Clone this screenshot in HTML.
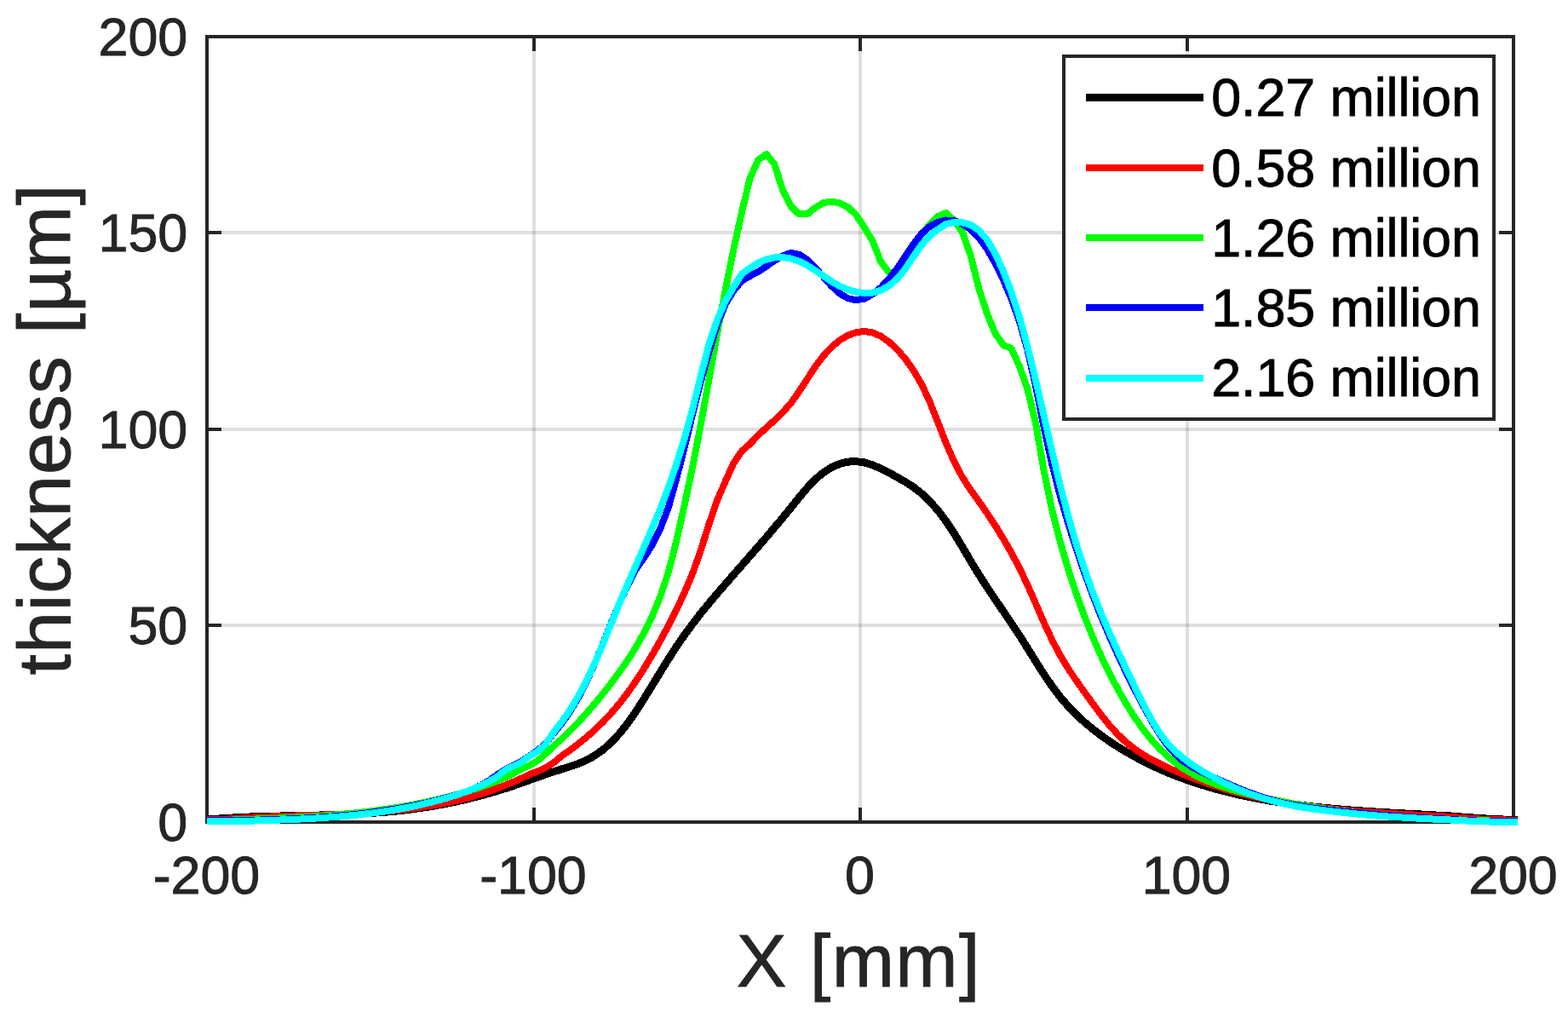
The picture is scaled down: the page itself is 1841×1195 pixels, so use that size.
<!DOCTYPE html>
<html lang="en"><head><meta charset="utf-8"><title>thickness vs X</title>
<style>
html,body{margin:0;padding:0;background:#fff;}
body{width:1841px;height:1195px;overflow:hidden;}
svg{display:block;}
text{font-family:"Liberation Sans",sans-serif;}
.tick{font-size:62.8px;fill:#262626;stroke:#262626;stroke-width:0.9px;letter-spacing:-0.1px;}
.lab{font-size:88px;fill:#262626;stroke:#262626;stroke-width:0.9px;letter-spacing:1.2px;}
.leg{font-size:62.8px;fill:#000;stroke:#000;stroke-width:0.9px;letter-spacing:-0.1px;}
.curve{fill:none;stroke-linejoin:round;stroke-linecap:butt;}
</style></head><body>
<svg width="1841" height="1195" viewBox="0 0 1841 1195">
<rect x="0" y="0" width="1841" height="1195" fill="#ffffff"/>
<g shape-rendering="crispEdges">
<rect x="625" y="43" width="4" height="922" fill="rgba(38,38,38,0.15)"/>
<rect x="1008" y="43" width="4" height="922" fill="rgba(38,38,38,0.15)"/>
<rect x="1392" y="43" width="4" height="922" fill="rgba(38,38,38,0.15)"/>
<rect x="243" y="732" width="1534" height="4" fill="rgba(38,38,38,0.15)"/>
<rect x="243" y="502" width="1534" height="4" fill="rgba(38,38,38,0.15)"/>
<rect x="243" y="271" width="1534" height="4" fill="rgba(38,38,38,0.15)"/>
<rect x="241" y="41" width="1538" height="4" fill="#262626"/>
<rect x="241" y="963" width="1538" height="4" fill="#262626"/>
<rect x="241" y="41" width="4" height="926" fill="#262626"/>
<rect x="1775" y="41" width="4" height="926" fill="#262626"/>
<rect x="625" y="948" width="4" height="17" fill="#262626"/>
<rect x="625" y="43" width="4" height="17" fill="#262626"/>
<rect x="1008" y="948" width="4" height="17" fill="#262626"/>
<rect x="1008" y="43" width="4" height="17" fill="#262626"/>
<rect x="1392" y="948" width="4" height="17" fill="#262626"/>
<rect x="1392" y="43" width="4" height="17" fill="#262626"/>
<rect x="243" y="732" width="17" height="4" fill="#262626"/>
<rect x="1760" y="732" width="17" height="4" fill="#262626"/>
<rect x="243" y="502" width="17" height="4" fill="#262626"/>
<rect x="1760" y="502" width="17" height="4" fill="#262626"/>
<rect x="243" y="271" width="17" height="4" fill="#262626"/>
<rect x="1760" y="271" width="17" height="4" fill="#262626"/>
</g>
<clipPath id="clip"><rect x="243" y="0" width="1539" height="1195"/></clipPath>
<g class="curve" clip-path="url(#clip)" shape-rendering="crispEdges">
<polyline stroke="#000000" stroke-width="9" points="238.2,961.7 247.8,961.4 257.4,961.0 267.0,960.4 276.6,959.8 286.2,959.3 295.7,958.9 305.3,958.6 314.9,958.3 324.5,958.1 334.1,957.9 343.7,957.7 353.3,957.5 362.9,957.3 372.4,957.1 382.0,956.8 391.6,956.6 401.2,956.2 410.8,955.8 420.4,955.4 430.0,954.9 439.6,954.2 449.1,953.5 458.7,952.7 468.3,951.7 477.9,950.6 487.5,949.4 497.1,948.0 506.7,946.5 516.2,944.8 525.8,943.0 535.4,941.0 545.0,938.9 554.6,936.5 564.2,934.1 573.8,931.4 583.4,928.6 593.0,925.6 602.5,922.5 612.1,919.1 621.7,915.7 631.3,912.3 640.9,908.9 650.5,905.7 660.1,902.7 669.7,899.7 679.2,896.4 688.8,892.3 698.4,886.9 708.0,880.1 717.6,871.6 727.2,861.3 736.8,849.2 746.4,835.6 755.9,820.6 765.5,805.0 775.1,789.3 784.7,773.8 794.3,758.9 803.9,745.0 813.5,732.0 823.0,719.7 832.6,708.0 842.2,696.6 851.8,685.5 861.4,674.5 871.0,663.6 880.6,652.6 890.2,641.7 899.8,630.6 909.3,619.3 918.9,607.9 928.5,596.1 938.1,584.2 947.7,572.7 957.3,562.7 966.9,554.6 976.5,548.5 986.0,544.4 995.6,542.1 1005.2,541.6 1014.8,542.9 1024.4,545.8 1034.0,549.9 1043.6,554.8 1053.2,560.1 1062.7,565.5 1072.3,571.7 1081.9,579.2 1091.5,588.3 1101.1,599.1 1110.7,611.8 1120.3,626.2 1129.9,642.0 1139.4,658.2 1149.0,674.0 1158.6,688.9 1168.2,703.3 1177.8,717.3 1187.4,731.5 1197.0,745.9 1206.5,761.1 1216.1,776.5 1225.7,791.6 1235.3,805.7 1244.9,818.4 1254.5,829.5 1264.1,839.3 1273.7,848.1 1283.2,856.0 1292.8,863.4 1302.4,870.1 1312.0,876.4 1321.6,882.2 1331.2,887.7 1340.8,892.8 1350.4,897.6 1360.0,902.1 1369.5,906.3 1379.1,910.2 1388.7,913.8 1398.3,917.2 1407.9,920.4 1417.5,923.3 1427.1,926.1 1436.7,928.6 1446.2,931.0 1455.8,933.2 1465.4,935.3 1475.0,937.2 1484.6,938.9 1494.2,940.6 1503.8,942.1 1513.3,943.4 1522.9,944.7 1532.5,945.9 1542.1,947.0 1551.7,948.0 1561.3,948.9 1570.9,949.8 1580.5,950.6 1590.0,951.3 1599.6,952.0 1609.2,952.6 1618.8,953.3 1628.4,953.8 1638.0,954.4 1647.6,954.9 1657.2,955.4 1666.8,955.9 1676.3,956.4 1685.9,957.0 1695.5,957.5 1705.1,958.1 1714.7,958.9 1724.3,959.6 1733.9,960.3 1743.5,960.9 1753.0,961.5 1762.6,961.9 1772.2,962.3 1781.8,962.7"/>
<polyline stroke="#ff0000" stroke-width="8" points="238.2,962.4 247.8,962.2 257.4,962.0 267.0,961.6 276.6,961.0 286.2,960.3 295.7,959.6 305.3,959.0 314.9,958.6 324.5,958.3 334.1,957.9 343.7,957.6 353.3,957.3 362.9,957.1 372.4,956.8 382.0,956.4 391.6,956.1 401.2,955.7 410.8,955.3 420.4,954.8 430.0,954.2 439.6,953.6 449.1,952.8 458.7,952.0 468.3,951.0 477.9,949.9 487.5,948.7 497.1,947.3 506.7,945.7 516.2,944.0 525.8,942.1 535.4,939.9 545.0,937.6 554.6,935.0 564.2,932.1 573.8,929.0 583.4,925.6 593.0,921.9 602.5,917.9 612.1,913.7 621.7,909.0 631.3,905.5 640.9,901.0 650.5,895.0 660.1,886.9 669.7,880.2 679.2,873.0 688.8,865.2 698.4,856.8 708.0,847.4 717.6,837.2 727.2,825.9 736.8,813.5 746.4,799.9 755.9,785.2 765.5,769.3 775.1,752.4 784.7,734.6 794.3,715.6 803.9,695.1 813.5,672.3 823.0,645.3 832.6,614.8 842.2,586.9 851.8,564.8 861.4,543.5 871.0,529.5 880.6,521.1 890.2,510.8 899.8,502.0 909.3,493.5 918.9,484.3 928.5,473.3 938.1,459.8 947.7,445.0 957.3,430.4 966.9,417.6 976.5,407.3 986.0,399.3 995.6,393.7 1005.2,390.2 1014.8,389.0 1024.4,390.4 1034.0,394.6 1043.6,401.2 1053.2,410.0 1062.7,421.0 1072.3,434.4 1081.9,450.8 1091.5,471.2 1101.1,495.3 1110.7,520.1 1120.3,542.0 1129.9,560.1 1139.4,574.8 1149.0,588.1 1158.6,601.9 1168.2,616.5 1177.8,632.1 1187.4,648.8 1197.0,666.9 1206.5,686.9 1216.1,708.7 1225.7,730.8 1235.3,751.4 1244.9,769.6 1254.5,785.3 1264.1,799.6 1273.7,813.1 1283.2,826.3 1292.8,839.2 1302.4,851.1 1312.0,861.7 1321.6,870.9 1331.2,878.5 1340.8,885.0 1350.4,890.7 1360.0,895.7 1369.5,900.4 1379.1,904.7 1388.7,908.8 1398.3,912.7 1407.9,916.3 1417.5,919.7 1427.1,922.8 1436.7,925.8 1446.2,928.6 1455.8,931.1 1465.4,933.5 1475.0,935.7 1484.6,937.7 1494.2,939.6 1503.8,941.4 1513.3,943.0 1522.9,944.5 1532.5,945.8 1542.1,947.1 1551.7,948.2 1561.3,949.3 1570.9,950.3 1580.5,951.2 1590.0,952.0 1599.6,952.7 1609.2,953.4 1618.8,954.1 1628.4,954.7 1638.0,955.3 1647.6,955.8 1657.2,956.3 1666.8,956.8 1676.3,957.3 1685.9,957.8 1695.5,958.4 1705.1,959.0 1714.7,959.8 1724.3,960.6 1733.9,961.3 1743.5,961.8 1753.0,962.2 1762.6,962.4 1772.2,962.6 1781.8,962.9"/>
<polyline stroke="#00ff00" stroke-width="8" points="238.2,963.4 247.8,963.2 257.4,963.0 267.0,962.7 276.6,962.4 286.2,962.1 295.7,961.7 305.3,961.3 314.9,961.0 324.5,960.6 334.1,960.2 343.7,959.7 353.3,959.2 362.9,958.7 372.4,958.1 382.0,957.4 391.6,956.6 401.2,955.8 410.8,954.9 420.4,954.0 430.0,952.9 439.6,951.7 449.1,950.4 458.7,949.0 468.3,947.5 477.9,945.9 487.5,944.1 497.1,942.2 506.7,940.1 516.2,937.9 525.8,935.5 535.4,932.9 545.0,930.2 554.6,927.2 564.2,924.1 573.8,920.6 583.4,916.9 593.0,912.8 602.5,908.1 612.1,902.8 621.7,898.5 631.3,893.0 640.9,884.5 650.5,875.3 660.1,866.8 669.7,857.6 679.2,847.7 688.8,837.1 698.4,825.9 708.0,814.2 717.6,802.0 727.2,789.0 736.8,775.2 746.4,760.2 755.9,743.3 765.5,723.9 775.1,700.8 784.7,672.0 794.3,634.7 803.9,591.4 813.5,546.4 823.0,497.2 832.6,444.5 842.2,391.1 851.8,340.0 861.4,292.6 871.0,248.9 880.6,209.0 890.2,187.9 899.8,181.0 909.3,192.6 918.9,223.1 928.5,242.2 938.1,251.4 947.7,251.5 957.3,243.7 966.9,238.1 976.5,236.6 986.0,238.4 995.6,243.2 1005.2,252.3 1014.8,267.1 1024.4,282.5 1034.0,307.1 1043.6,319.8 1053.2,319.8 1062.7,313.3 1072.3,290.9 1081.9,274.6 1091.5,263.8 1101.1,254.1 1110.7,250.0 1120.3,258.6 1129.9,272.4 1139.4,299.5 1149.0,337.6 1158.6,367.1 1168.2,390.9 1177.8,405.0 1187.4,409.0 1197.0,430.2 1206.5,456.9 1216.1,497.4 1225.7,553.0 1235.3,598.9 1244.9,636.5 1254.5,669.1 1264.1,698.3 1273.7,724.6 1283.2,748.4 1292.8,770.1 1302.4,789.9 1312.0,808.2 1321.6,825.0 1331.2,840.5 1340.8,854.4 1350.4,866.7 1360.0,877.4 1369.5,886.7 1379.1,894.7 1388.7,901.6 1398.3,907.4 1407.9,912.4 1417.5,916.8 1427.1,920.6 1436.7,923.9 1446.2,926.9 1455.8,929.6 1465.4,932.1 1475.0,934.4 1484.6,936.6 1494.2,938.7 1503.8,940.6 1513.3,942.5 1522.9,944.2 1532.5,945.8 1542.1,947.3 1551.7,948.8 1561.3,950.1 1570.9,951.4 1580.5,952.6 1590.0,953.7 1599.6,954.7 1609.2,955.7 1618.8,956.6 1628.4,957.4 1638.0,958.2 1647.6,958.9 1657.2,959.6 1666.8,960.2 1676.3,960.7 1685.9,961.2 1695.5,961.7 1705.1,962.1 1714.7,962.5 1724.3,962.9 1733.9,963.1 1743.5,963.4 1753.0,963.6 1762.6,963.8 1772.2,963.8 1781.8,963.9"/>
<polyline stroke="#0000ff" stroke-width="8" points="238.2,963.4 247.8,963.4 257.4,963.4 267.0,963.4 276.6,963.3 286.2,963.0 295.7,962.8 305.3,962.5 314.9,962.2 324.5,961.9 334.1,961.6 343.7,961.2 353.3,960.7 362.9,960.2 372.4,959.6 382.0,959.0 391.6,958.3 401.2,957.4 410.8,956.5 420.4,955.6 430.0,954.5 439.6,953.2 449.1,951.9 458.7,950.5 468.3,948.9 477.9,947.1 487.5,945.2 497.1,943.2 506.7,941.0 516.2,938.5 525.8,935.9 535.4,933.1 545.0,930.1 554.6,926.6 564.2,922.2 573.8,916.5 583.4,909.7 593.0,903.5 602.5,898.8 612.1,893.7 621.7,887.3 631.3,881.0 640.9,872.5 650.5,860.3 660.1,848.3 669.7,834.4 679.2,818.4 688.8,799.8 698.4,778.7 708.0,755.4 717.6,731.4 727.2,708.3 736.8,687.3 746.4,668.5 755.9,655.0 765.5,640.0 775.1,621.0 784.7,596.0 794.3,561.5 803.9,524.3 813.5,484.8 823.0,447.1 832.6,412.5 842.2,380.3 851.8,356.8 861.4,341.1 871.0,329.6 880.6,324.0 890.2,319.0 899.8,312.6 909.3,306.0 918.9,300.4 928.5,296.9 938.1,298.7 947.7,304.8 957.3,314.2 966.9,325.3 976.5,336.0 986.0,344.6 995.6,350.2 1005.2,352.3 1014.8,350.6 1024.4,345.5 1034.0,337.8 1043.6,327.7 1053.2,315.4 1062.7,301.1 1072.3,286.7 1081.9,274.6 1091.5,266.0 1101.1,260.9 1110.7,258.5 1120.3,259.0 1129.9,262.7 1139.4,269.3 1149.0,278.7 1158.6,291.7 1168.2,308.4 1177.8,328.0 1187.4,350.6 1197.0,377.5 1206.5,410.8 1216.1,453.4 1225.7,501.7 1235.3,545.3 1244.9,582.4 1254.5,615.4 1264.1,645.5 1273.7,673.4 1283.2,699.3 1292.8,723.5 1302.4,746.2 1312.0,767.7 1321.6,788.0 1331.2,807.2 1340.8,825.6 1350.4,843.1 1360.0,859.5 1369.5,873.5 1379.1,884.5 1388.7,893.0 1398.3,899.4 1407.9,904.8 1417.5,909.4 1427.1,913.7 1436.7,917.9 1446.2,922.0 1455.8,926.0 1465.4,929.8 1475.0,933.3 1484.6,936.5 1494.2,939.4 1503.8,941.8 1513.3,943.9 1522.9,945.6 1532.5,947.2 1542.1,948.5 1551.7,949.7 1561.3,950.8 1570.9,951.9 1580.5,952.9 1590.0,953.8 1599.6,954.7 1609.2,955.6 1618.8,956.4 1628.4,957.2 1638.0,957.9 1647.6,958.6 1657.2,959.2 1666.8,959.8 1676.3,960.4 1685.9,961.0 1695.5,961.5 1705.1,962.0 1714.7,962.6 1724.3,963.1 1733.9,963.5 1743.5,963.8 1753.0,964.0 1762.6,964.2 1772.2,964.2 1781.8,964.3"/>
<polyline stroke="#00ffff" stroke-width="8" points="238.2,964.4 247.8,964.4 257.4,964.4 267.0,964.4 276.6,964.2 286.2,963.9 295.7,963.6 305.3,963.3 314.9,963.0 324.5,962.7 334.1,962.3 343.7,961.9 353.3,961.5 362.9,961.0 372.4,960.4 382.0,959.8 391.6,959.1 401.2,958.3 410.8,957.5 420.4,956.5 430.0,955.4 439.6,954.2 449.1,952.9 458.7,951.4 468.3,949.8 477.9,948.0 487.5,946.1 497.1,943.9 506.7,941.6 516.2,939.1 525.8,936.4 535.4,933.4 545.0,930.1 554.6,926.5 564.2,922.4 573.8,917.5 583.4,912.0 593.0,904.0 602.5,899.5 612.1,894.8 621.7,887.5 631.3,882.0 640.9,873.0 650.5,858.9 660.1,846.7 669.7,832.8 679.2,816.9 688.8,798.8 698.4,778.3 708.0,755.8 717.6,732.0 727.2,708.5 736.8,686.1 746.4,664.3 755.9,642.7 765.5,620.7 775.1,597.6 784.7,572.5 794.3,544.7 803.9,513.7 813.5,479.0 823.0,440.5 832.6,403.8 842.2,375.1 851.8,353.4 861.4,336.7 871.0,321.5 880.6,314.7 890.2,308.4 899.8,304.5 909.3,302.4 918.9,302.0 928.5,303.5 938.1,306.7 947.7,311.5 957.3,317.5 966.9,324.1 976.5,330.5 986.0,335.9 995.6,340.0 1005.2,342.8 1014.8,344.0 1024.4,343.6 1034.0,340.9 1043.6,335.6 1053.2,327.5 1062.7,316.0 1072.3,301.6 1081.9,287.8 1091.5,277.0 1101.1,269.3 1110.7,263.0 1120.3,261.0 1129.9,261.2 1139.4,263.9 1149.0,270.1 1158.6,281.0 1168.2,297.0 1177.8,317.9 1187.4,342.7 1197.0,372.1 1206.5,407.0 1216.1,446.5 1225.7,488.3 1235.3,530.3 1244.9,570.3 1254.5,607.0 1264.1,640.0 1273.7,669.5 1283.2,695.9 1292.8,719.9 1302.4,742.2 1312.0,763.5 1321.6,783.9 1331.2,803.9 1340.8,823.4 1350.4,842.1 1360.0,858.2 1369.5,871.1 1379.1,881.2 1388.7,889.5 1398.3,896.6 1407.9,902.9 1417.5,908.6 1427.1,913.8 1436.7,918.7 1446.2,923.2 1455.8,927.3 1465.4,931.0 1475.0,934.5 1484.6,937.5 1494.2,940.2 1503.8,942.6 1513.3,944.7 1522.9,946.6 1532.5,948.2 1542.1,949.6 1551.7,950.9 1561.3,952.1 1570.9,953.2 1580.5,954.2 1590.0,955.2 1599.6,956.1 1609.2,956.9 1618.8,957.7 1628.4,958.4 1638.0,959.0 1647.6,959.6 1657.2,960.2 1666.8,960.7 1676.3,961.2 1685.9,961.7 1695.5,962.1 1705.1,962.6 1714.7,963.1 1724.3,963.6 1733.9,964.0 1743.5,964.4 1753.0,964.6 1762.6,964.8 1772.2,964.8 1781.8,964.9"/>
</g>
<text class="tick" x="242.40" y="1048.90" text-anchor="middle">-200</text>
<text class="tick" x="625.90" y="1048.90" text-anchor="middle">-100</text>
<text class="tick" x="1009.40" y="1048.90" text-anchor="middle">0</text>
<text class="tick" x="1392.90" y="1048.90" text-anchor="middle">100</text>
<text class="tick" x="1776.40" y="1048.90" text-anchor="middle">200</text>
<text class="tick" x="220.10" y="986.60" text-anchor="end">0</text>
<text class="tick" x="220.10" y="756.10" text-anchor="end">50</text>
<text class="tick" x="220.10" y="525.60" text-anchor="end">100</text>
<text class="tick" x="220.10" y="295.10" text-anchor="end">150</text>
<text class="tick" x="220.10" y="64.60" text-anchor="end">200</text>
<text class="lab" style="letter-spacing:1.4px" x="1008.40" y="1158.30" text-anchor="middle">X [mm]</text>
<text class="lab" style="letter-spacing:0.9px" transform="translate(82.00,504.00) rotate(-90)" text-anchor="middle">thickness [µm]</text>
<g shape-rendering="crispEdges">
<rect x="1247" y="64" width="509" height="430" fill="#262626"/>
<rect x="1251" y="68" width="501" height="422" fill="#ffffff"/>
<rect x="1275" y="110" width="138" height="9" fill="#000000"/>
<rect x="1275" y="193" width="138" height="8" fill="#ff0000"/>
<rect x="1275" y="275" width="138" height="8" fill="#00ff00"/>
<rect x="1275" y="357" width="138" height="8" fill="#0000ff"/>
<rect x="1275" y="440" width="138" height="8" fill="#00ffff"/>
</g>
<text class="leg" x="1422.3" y="136.30">0.27 million</text>
<text class="leg" x="1422.3" y="218.55">0.58 million</text>
<text class="leg" x="1422.3" y="300.80">1.26 million</text>
<text class="leg" x="1422.3" y="383.05">1.85 million</text>
<text class="leg" x="1422.3" y="465.30">2.16 million</text>
</svg>
</body></html>
